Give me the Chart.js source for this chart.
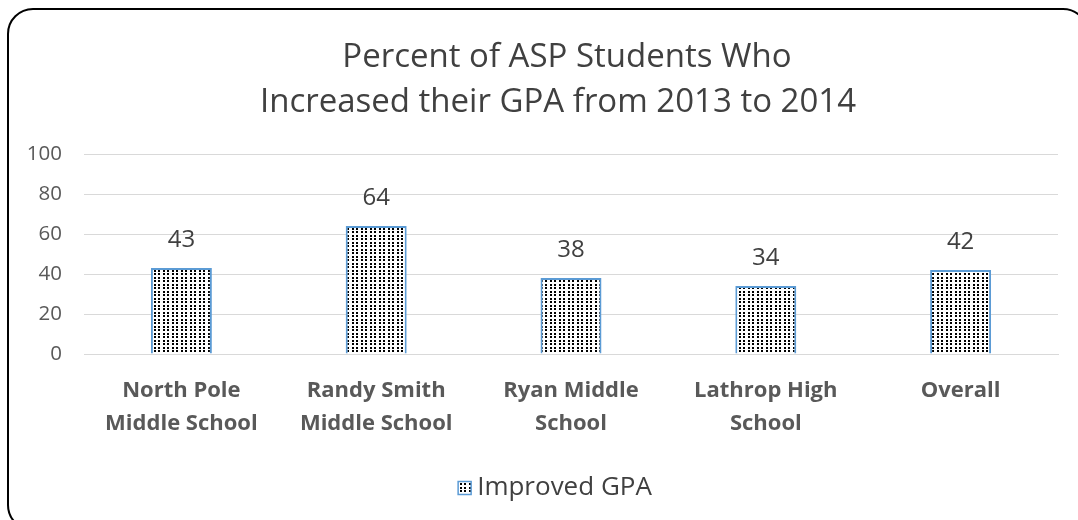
<!DOCTYPE html>
<html>
<head>
<meta charset="utf-8">
<script src="https://cdn.jsdelivr.net/npm/chart.js@4.4.1/dist/chart.umd.min.js"></script>
<style>
  html, body { margin: 0; padding: 0; background: #fff; overflow: hidden; }
  #wrap { position: relative; width: 1078px; height: 520px; }
</style>
</head>
<body>
<div id="wrap"><canvas id="c" width="1078" height="520"></canvas></div>
<script>
const categories = [
  ["North Pole", "Middle School"],
  ["Randy Smith", "Middle School"],
  ["Ryan Middle", "School"],
  ["Lathrop High", "School"],
  ["Overall"]
];
const improvedGPA = [43, 64, 38, 34, 42];
const seriesName = "Improved GPA";
const titleLines = ["Percent of ASP Students Who", "Increased their GPA from 2013 to 2014"];
const yTicks = [0, 20, 40, 60, 80, 100];

const FONT = "'Open Sans', Lato, sans-serif";
const BLUE = '#5B9BD5';

function makePattern() {
  const p = document.createElement('canvas');
  p.width = 9; p.height = 7;
  const g = p.getContext('2d');
  g.fillStyle = '#ffffff';
  g.fillRect(0, 0, 9, 7);
  g.fillStyle = '#000000';
  [[1, 0], [5, 0], [1, 4], [5, 4]].forEach(([x, y]) => g.fillRect(x, y, 2, 2));
  return document.getElementById('c').getContext('2d').createPattern(p, 'repeat');
}
const pattern = makePattern();

const frame = {
  id: 'frame',
  beforeDraw(chart) {
    const ctx = chart.ctx;
    ctx.save();
    ctx.fillStyle = '#fff';
    ctx.fillRect(0, 0, chart.width, chart.height);
    const x = 8, y = 9, w = 1080, h = 521, r = 25;
    ctx.beginPath();
    ctx.moveTo(x + r, y);
    ctx.lineTo(x + w - r, y);
    ctx.arcTo(x + w, y, x + w, y + r, r);
    ctx.lineTo(x + w, y + h - r);
    ctx.arcTo(x + w, y + h, x + w - r, y + h, r);
    ctx.lineTo(x + r, y + h);
    ctx.arcTo(x, y + h, x, y + h - r, r);
    ctx.lineTo(x, y + r);
    ctx.arcTo(x, y, x + r, y, r);
    ctx.closePath();
    ctx.lineWidth = 2;
    ctx.strokeStyle = '#000';
    ctx.stroke();
    ctx.restore();
  }
};

const titleDraw = {
  id: 'titleDraw',
  afterDraw(chart) {
    const ctx = chart.ctx;
    ctx.save();
    ctx.font = "33px " + FONT;
    ctx.fillStyle = '#404040';
    ctx.textAlign = 'center';
    ctx.textBaseline = 'middle';
    ctx.fillText(titleLines[0], 567, 58);
    ctx.fillText(titleLines[1], 558, 103);
    ctx.restore();
  }
};

const dataLabels = {
  id: 'dataLabels',
  afterDatasetsDraw(chart) {
    const ctx = chart.ctx;
    const meta = chart.getDatasetMeta(0);
    ctx.save();
    ctx.font = "24px " + FONT;
    ctx.fillStyle = '#404040';
    ctx.textAlign = 'center';
    ctx.textBaseline = 'middle';
    meta.data.forEach((bar, i) => {
      ctx.fillText(String(chart.data.datasets[0].data[i]), bar.x, bar.y - 28);
    });
    ctx.restore();
  }
};

const customLegend = {
  id: 'customLegend',
  afterDraw(chart) {
    const ctx = chart.ctx;
    const ds = chart.data.datasets[0];
    ctx.save();
    ctx.font = "26px " + FONT;
    const label = ds.label;
    const tw = ctx.measureText(label).width;
    const box = 13, gap = 6;
    const total = box + gap + tw;
    const x0 = 555 - total / 2;
    const cy = 488;
    ctx.fillStyle = pattern;
    ctx.fillRect(x0, cy - box / 2, box, box);
    ctx.strokeStyle = BLUE;
    ctx.lineWidth = 1.5;
    ctx.strokeRect(x0, cy - box / 2, box, box);
    ctx.fillStyle = '#404040';
    ctx.textAlign = 'left';
    ctx.textBaseline = 'middle';
    ctx.fillText(label, x0 + box + gap, cy);
    ctx.restore();
  }
};

new Chart(document.getElementById('c'), {
  type: 'bar',
  data: {
    labels: categories,
    datasets: [{
      label: seriesName,
      data: improvedGPA,
      backgroundColor: pattern,
      borderColor: BLUE,
      borderWidth: 2,
      categoryPercentage: 1,
      barPercentage: 0.313
    }]
  },
  options: {
    responsive: false,
    animation: false,
    devicePixelRatio: 1,
    layout: { padding: { top: 154, left: 20, right: 20, bottom: 80.5 } },
    plugins: {
      title: { display: false },
      legend: { display: false },
      tooltip: { enabled: false }
    },
    scales: {
      x: {
        grid: { display: false },
        border: { display: true, color: '#d9d9d9', width: 1 },
        afterFit(axis) { axis.height = 85.5; },
        ticks: {
          color: '#595959',
          font: { family: FONT, size: 22, weight: 'bold', lineHeight: 1.5 },
          padding: 12.5,
          maxRotation: 0,
          autoSkip: false
        }
      },
      y: {
        min: 0, max: 100,
        afterBuildTicks(axis) { axis.ticks = yTicks.map(v => ({ value: v })); },
        afterFit(axis) { axis.width = 64; },
        grid: { color: '#d9d9d9', lineWidth: 1, drawTicks: false },
        border: { display: false },
        ticks: {
          color: '#595959',
          font: { family: FONT, size: 20.5 },
          padding: 22
        }
      }
    }
  },
  plugins: [frame, titleDraw, dataLabels, customLegend]
});
</script>
</body>
</html>
